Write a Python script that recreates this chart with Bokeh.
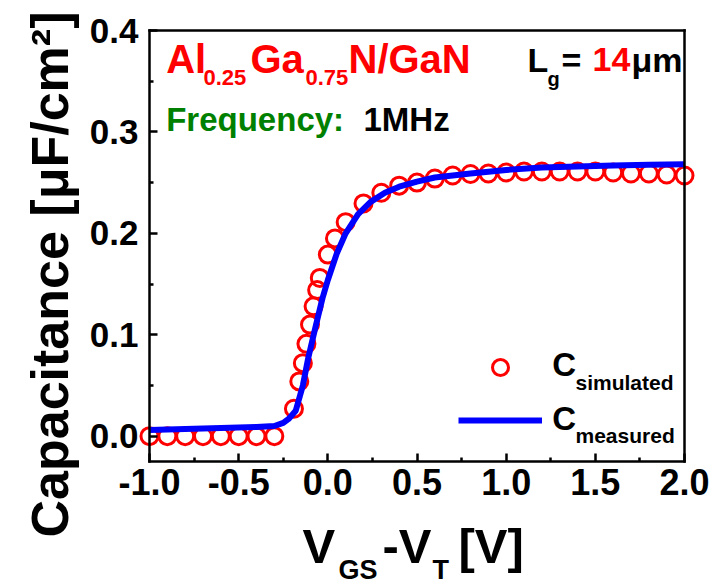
import math
from bokeh.plotting import figure
from bokeh.models import (Range1d, FixedTicker, NumeralTickFormatter, Label, Legend,
                          LegendItem, LinearAxis)
from bokeh.embed import file_html
from bokeh.resources import INLINE

# ---- data ----
x_sim = [-1.0, -0.9, -0.8, -0.7, -0.6, -0.5, -0.4, -0.3,
         -0.19, -0.16, -0.14, -0.12, -0.10, -0.08, -0.06, -0.045,
         0.0, 0.04, 0.10,
         0.20, 0.30, 0.40, 0.50, 0.60, 0.70, 0.80, 0.90, 1.00, 1.10,
         1.20, 1.30, 1.40, 1.50, 1.60, 1.70, 1.80, 1.90, 2.00]
y_sim = [0.0, 0.0, 0.0, 0.0, 0.0, 0.0, 0.0, 0.0,
         0.027, 0.054, 0.072, 0.091, 0.110, 0.128, 0.144, 0.156,
         0.179, 0.195, 0.211,
         0.2295, 0.240, 0.247, 0.250, 0.254, 0.257, 0.2585, 0.259, 0.260, 0.261,
         0.261, 0.261, 0.261, 0.261, 0.260, 0.259, 0.259, 0.258, 0.257]

x_meas = [-1.0, -0.8, -0.6, -0.4, -0.3, -0.25, -0.22, -0.18, -0.14, -0.11,
          -0.07, -0.03, 0.0, 0.05, 0.10, 0.17, 0.24, 0.32, 0.40, 0.50,
          0.60, 0.80, 1.00, 1.20, 1.40, 1.60, 1.80, 2.00]
y_meas = [0.006, 0.007, 0.008, 0.009, 0.010, 0.013, 0.017, 0.025, 0.050, 0.077,
          0.107, 0.136, 0.154, 0.180, 0.200, 0.219, 0.231, 0.240, 0.246, 0.251,
          0.255, 0.259, 0.2625, 0.265, 0.266, 0.267, 0.2675, 0.268]

x_ticks = [-1.0, -0.5, 0.0, 0.5, 1.0, 1.5, 2.0]
x_minor = [-0.75, -0.25, 0.25, 0.75, 1.25, 1.75]
y_ticks = [0.0, 0.1, 0.2, 0.3, 0.4]
y_minor = [0.05, 0.15, 0.25, 0.35]
X_LIM = (-1.0, 2.0)
Y_LIM = (-0.025, 0.4)

FONT = "Liberation Sans"
W, H = 713, 587
FL, FR, FT, FB = 149, 684, 30, 461   # axes box edges in page pixels

# the frame fills the whole canvas; the axes box is placed with fixed_location
kx = (FR - FL) / (X_LIM[1] - X_LIM[0])
ky = (FB - FT) / (Y_LIM[1] - Y_LIM[0])
xr = Range1d(X_LIM[0] - FL / kx, X_LIM[1] + (W - FR) / kx)
yr = Range1d(Y_LIM[0] - (H - FB) / ky, Y_LIM[1] + FT / ky)

p = figure(width=W, height=H, output_backend="svg", toolbar_location=None,
           x_range=xr, y_range=yr, min_border=0)
p.background_fill_color = "white"
p.border_fill_color = "white"
p.outline_line_color = None
p.xgrid.visible = False
p.ygrid.visible = False


def style_axis(ax, show):
    ax.axis_line_width = 2.5
    ax.axis_line_color = "black"
    ax.axis_line_cap = "square"
    if show:
        ax.major_tick_in = 8
        ax.minor_tick_in = 4
    else:
        ax.major_tick_in = 0
        ax.minor_tick_in = 0
        ax.major_label_text_alpha = 0
    ax.major_tick_out = 0
    ax.minor_tick_out = 0
    ax.major_tick_line_width = 2.5
    ax.minor_tick_line_width = 2.5
    ax.major_label_text_font = FONT
    ax.major_label_text_font_style = "bold"
    ax.major_label_text_color = "black"
    ax.formatter = NumeralTickFormatter(format="0.0")


xa = p.xaxis[0]
ya = p.yaxis[0]
style_axis(xa, True)
style_axis(ya, True)
xa.ticker = FixedTicker(ticks=x_ticks, minor_ticks=x_minor)
ya.ticker = FixedTicker(ticks=y_ticks, minor_ticks=y_minor)
xa.fixed_location = Y_LIM[0]
ya.fixed_location = X_LIM[0]
xa.bounds = X_LIM
ya.bounds = Y_LIM
xa.major_label_text_font_size = "36px"
ya.major_label_text_font_size = "35px"
xa.major_label_standoff = 7
ya.major_label_standoff = 11

top_ax = LinearAxis(fixed_location=Y_LIM[1], bounds=X_LIM,
                    ticker=FixedTicker(ticks=[], minor_ticks=[]))
right_ax = LinearAxis(fixed_location=X_LIM[1], bounds=Y_LIM,
                      ticker=FixedTicker(ticks=[], minor_ticks=[]))
style_axis(top_ax, False)
style_axis(right_ax, False)
p.add_layout(top_ax, "above")
p.add_layout(right_ax, "right")

sim = p.scatter(x_sim, y_sim, marker="circle", size=17, fill_alpha=0,
                line_color="#ff0000", line_width=3)
meas = p.line(x_meas, y_meas, line_color="#0000ff", line_width=6,
              line_join="round", line_cap="butt")

legend = Legend(items=[LegendItem(label=" ", renderers=[sim]),
                       LegendItem(label=" ", renderers=[meas])],
                location=(458, H - 439.7), padding=0, spacing=13,
                glyph_width=84, glyph_height=40,
                label_text_font_size="1px", label_width=1, label_standoff=0,
                background_fill_alpha=0, border_line_alpha=0)
p.add_layout(legend)

SHIFT = 0.38  # measured offset of the rendered baseline below the anchor, per px of font


def txt(text, px, py, size, color="black", angle=0.0, align="left"):
    # px, py: start (or centre) of the text baseline in page pixels
    if angle:
        px = px - SHIFT * size
    else:
        py = py - SHIFT * size
    p.add_layout(Label(x=px, y=H - py, x_units="screen", y_units="screen",
                       text=text, text_font=FONT, text_font_style="bold",
                       text_font_size=f"{size}px", text_color=color,
                       text_align=align, text_baseline="alphabetic", angle=angle))


# title inside plot
txt("Al", 165.7, 73.3, 40, "#ff0000")
txt("0.25", 203, 85, 22, "#ff0000")
txt("Ga", 250, 73.3, 40, "#ff0000")
txt("0.75", 305, 85, 22, "#ff0000")
txt("N/GaN", 348, 73.3, 40, "#ff0000")

txt("L", 527, 72, 34)
txt("g", 547, 86, 20)
txt("=", 561, 72, 34)
txt("14", 592, 72, 34, "#ff0000")
txt("\u03bcm", 631, 72, 34)

txt("Frequency:", 165.7, 131.7, 33, "#008000")
txt("1MHz", 363, 131.7, 33)

# legend texts
txt("C", 551.7, 376.7, 33)
txt("simulated", 575, 390, 21)
txt("C", 551.7, 431, 33)
txt("measured", 575, 443.3, 21)

# axis titles
txt("V", 302, 564, 49)
txt("GS", 338, 580, 27)
txt("-V", 382, 564, 49)
txt("T", 432, 580, 27)
txt("[V]", 458, 564, 49)

txt("Capacitance [\u03bcF/cm\u00b2]", 69, 274, 52, angle=math.pi / 2, align="center")

open("out.html", "w").write(file_html(p, INLINE))
